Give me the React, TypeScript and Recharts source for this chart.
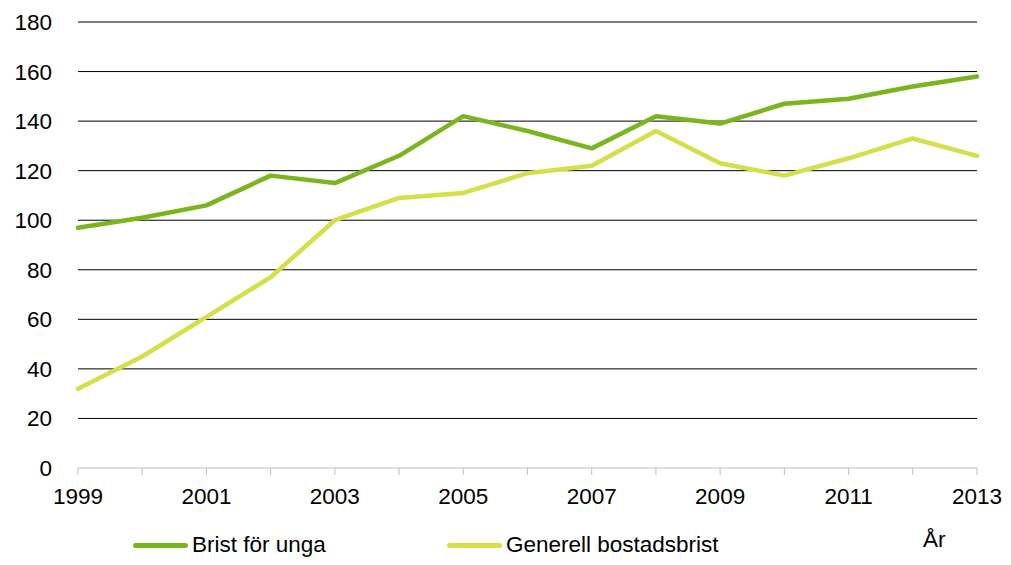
import React from 'react';
import { LineChart, Line, XAxis, YAxis, ReferenceLine } from 'recharts';

const years = [1999, 2000, 2001, 2002, 2003, 2004, 2005, 2006, 2007, 2008, 2009, 2010, 2011, 2012, 2013];
const bristForUnga = [97, 101, 106, 118, 115, 126, 142, 136, 129, 142, 139, 147, 149, 154, 158];
const generellBostadsbrist = [32, 45, 61, 77, 100, 109, 111, 119, 122, 136, 123, 118, 125, 133, 126];
const yTicks = [0, 20, 40, 60, 80, 100, 120, 140, 160, 180];

const data = years.map((year, i) => ({
  year,
  unga: bristForUnga[i],
  generell: generellBostadsbrist[i],
}));

const FONT = '"Liberation Sans", Arial, sans-serif';
const FS = 22.5;

function LegendItem({ color, label, left }: { color: string; label: string; left: number }) {
  return (
    <div style={{ position: 'absolute', left, top: 532, display: 'flex', alignItems: 'center' }}>
      <div style={{ width: 55, height: 5, borderRadius: 3, background: color, marginRight: 4 }} />
      <span style={{ fontSize: FS, color: '#000' }}>{label}</span>
    </div>
  );
}

export default function App() {
  return (
    <div style={{ position: 'absolute', left: 0, top: 0, width: 1011, height: 565, background: '#fff', fontFamily: FONT }}>
      <LineChart width={1011} height={565} data={data} margin={{ top: 22, right: 34, left: 0, bottom: 67 }}>
        {yTicks.filter((v) => v > 0).map((v) => (
          <ReferenceLine key={v} y={v} stroke="#000" strokeWidth={1} />
        ))}
        <XAxis
          dataKey="year"
          type="number"
          domain={[1999, 2013]}
          ticks={years}
          interval={0}
          tickFormatter={(v: number) => (v % 2 === 1 ? String(v) : '')}
          stroke="#bfbfbf"
          tickSize={7}
          tickMargin={13}
          height={30}
          tick={{ fill: '#000', fontSize: FS, fontFamily: FONT }}
        />
        <YAxis
          domain={[0, 180]}
          ticks={yTicks}
          interval={0}
          axisLine={false}
          tickLine={false}
          tickSize={0}
          tickMargin={26}
          width={78}
          tick={{ fill: '#000', fontSize: FS, fontFamily: FONT }}
        />
        <Line
          type="linear"
          dataKey="unga"
          stroke="#7ab51d"
          strokeWidth={4.5}
          strokeLinecap="round"
          strokeLinejoin="round"
          dot={false}
          isAnimationActive={false}
        />
        <Line
          type="linear"
          dataKey="generell"
          stroke="#d4df4a"
          strokeWidth={4.5}
          strokeLinecap="round"
          strokeLinejoin="round"
          dot={false}
          isAnimationActive={false}
        />
      </LineChart>
      <LegendItem color="#7ab51d" label="Brist för unga" left={133} />
      <LegendItem color="#d4df4a" label="Generell bostadsbrist" left={447} />
      <div style={{ position: 'absolute', left: 923, top: 527, fontSize: FS }}>År</div>
    </div>
  );
}
